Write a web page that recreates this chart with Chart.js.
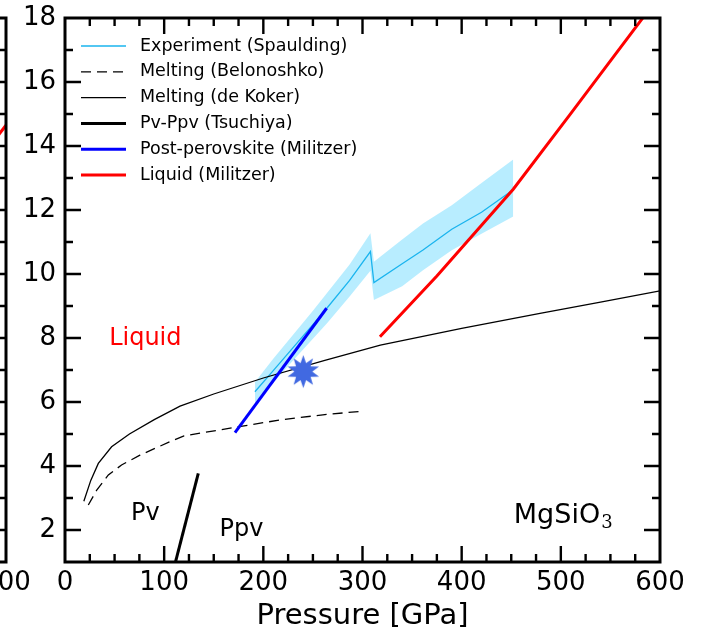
<!DOCTYPE html>
<html lang="en">
<head>
<meta charset="UTF-8">
<title>MgSiO3 phase diagram</title>
<script src="https://cdn.jsdelivr.net/npm/chart.js@4"></script>
<style>
  body { margin: 0; background: #fff; }
  #wrap { position: relative; width: 702px; height: 634px; overflow: hidden; }
  #leftChart { position: absolute; left: -654px; top: 0; }
  #mainChart { position: absolute; left: 0; top: 0; }
</style>
</head>
<body>
<div id="wrap">
  <canvas id="leftChart" width="702" height="634"></canvas>
  <canvas id="mainChart" width="702" height="634"></canvas>
</div>
<script>
// values: pressure in GPa, temperature in 1000 K
const xTicks = [0, 100, 200, 300, 400, 500, 600];
const yTicks = [2, 4, 6, 8, 10, 12, 14, 16, 18];

// Experiment (Spaulding): line plus uncertainty band
const expP  = [191.5, 210, 230, 250, 264, 287, 308, 311.5, 340, 361, 390, 420, 452];
const expT  = [6.32, 6.98, 7.7, 8.42, 8.93, 9.8, 10.7, 9.73, 10.32, 10.75, 11.4, 11.93, 12.63];
const expHi = [6.62, 7.35, 8.1, 8.85, 9.4, 10.3, 11.27, 10.38, 11.08, 11.58, 12.15, 12.84, 13.58];
const expLo = [5.98, 6.6, 7.3, 7.98, 8.45, 9.3, 10.1, 9.19, 9.62, 10.12, 10.74, 11.26, 11.8];

// Melting (Belonoshko), dashed
const belP = [23.5, 32, 43.7, 57, 75.6, 105.8, 120, 170, 217, 260, 299];
const belT = [2.78, 3.25, 3.72, 4.03, 4.34, 4.76, 4.94, 5.2, 5.44, 5.6, 5.71];

// Melting (de Koker)
const dkP = [19, 26, 33.6, 47, 65, 90, 116, 150, 200, 262, 318, 400, 479, 540, 600];
const dkT = [2.9, 3.55, 4.08, 4.6, 5.0, 5.45, 5.87, 6.25, 6.75, 7.3, 7.78, 8.3, 8.77, 9.12, 9.47];

// Pv-Ppv (Tsuchiya)
const tsP = [111, 134.4];
const tsT = [0.95, 3.77];

// Post-perovskite (Militzer)
const ppvP = [171.4, 263.8];
const ppvT = [5.04, 8.93];

// Liquid (Militzer)
const liqP = [317.6, 375, 452, 509, 585];
const liqT = [8.04, 9.94, 12.65, 14.97, 18.1];

// star marker
const starP = [240.3];
const starT = [6.95];

// neighbouring panel (only its right edge is visible)
const leftLiqP = [560, 600];
const leftLiqT = [13.05, 14.65];

const FONT = 'DejaVu Sans';
Chart.defaults.font.family = FONT;

const pts = (xs, ys) => xs.map((v, i) => ({ x: v, y: ys[i] }));

function makeStar(n, outer, inner, color) {
  const c = document.createElement('canvas');
  c.width = c.height = Math.ceil(outer * 2 + 2);
  const g = c.getContext('2d');
  g.translate(c.width / 2, c.height / 2);
  g.beginPath();
  for (let i = 0; i < n * 2; i++) {
    const r = i % 2 ? inner : outer;
    const a = -Math.PI / 2 + i * Math.PI / n;
    g.lineTo(r * Math.cos(a), r * Math.sin(a));
  }
  g.closePath();
  g.fillStyle = color;
  g.fill();
  return c;
}

// spines + inward ticks on all four sides
const frame = {
  id: 'frame',
  afterDraw(chart) {
    const { ctx, chartArea: a, scales: { x, y } } = chart;
    const minors = (min, max, step, majors) => {
      const out = [];
      for (let v = min; v <= max; v += step) if (!majors.includes(v)) out.push(v);
      return out;
    };
    ctx.save();
    ctx.strokeStyle = '#000';
    ctx.lineWidth = 2.4;
    const tx = (vals, len) => vals.forEach(v => {
      const p = x.getPixelForValue(v);
      if (p <= a.left + 1 || p >= a.right - 1) return;
      ctx.beginPath();
      ctx.moveTo(p, a.bottom); ctx.lineTo(p, a.bottom - len);
      ctx.moveTo(p, a.top); ctx.lineTo(p, a.top + len);
      ctx.stroke();
    });
    const ty = (vals, len) => vals.forEach(v => {
      const p = y.getPixelForValue(v);
      if (p <= a.top + 1 || p >= a.bottom - 1) return;
      ctx.beginPath();
      ctx.moveTo(a.left, p); ctx.lineTo(a.left + len, p);
      ctx.moveTo(a.right, p); ctx.lineTo(a.right - len, p);
      ctx.stroke();
    });
    tx(xTicks, 16);
    tx(minors(0, 600, 25, xTicks), 8);
    ty(yTicks, 16);
    ty(minors(1, 18, 1, yTicks), 8);
    ctx.lineWidth = 3;
    ctx.strokeRect(a.left, a.top, a.right - a.left, a.bottom - a.top);
    ctx.restore();
  }
};

// legend inside the plot, upper left, no frame
const inlineLegend = {
  id: 'inlineLegend',
  afterDraw(chart) {
    const { ctx, chartArea: a } = chart;
    const items = chart.data.datasets.filter(d => d.inLegend);
    ctx.save();
    ctx.font = '17.5px "' + FONT + '"';
    ctx.textBaseline = 'middle';
    items.forEach((d, i) => {
      const yy = a.top + 28 + i * 25.8;
      ctx.beginPath();
      ctx.strokeStyle = d.borderColor;
      ctx.lineWidth = d.borderWidth;
      ctx.setLineDash(d.borderDash || []);
      ctx.moveTo(a.left + 16, yy);
      ctx.lineTo(a.left + 61, yy);
      ctx.stroke();
      ctx.setLineDash([]);
      ctx.fillStyle = '#000';
      ctx.fillText(d.label, a.left + 75, yy);
    });
    ctx.restore();
  }
};

const notes = [
  { text: 'Liquid', x: 81, y: 7.98, color: 'red' },
  { text: 'Pv', x: 81, y: 2.52, color: '#000' },
  { text: 'Ppv', x: 178, y: 2.0, color: '#000' }
];

const annotate = {
  id: 'annotate',
  afterDraw(chart) {
    const { ctx, scales: { x, y } } = chart;
    ctx.save();
    ctx.textAlign = 'center';
    ctx.textBaseline = 'middle';
    ctx.font = '24px "' + FONT + '"';
    notes.forEach(n => {
      ctx.fillStyle = n.color;
      ctx.fillText(n.text, x.getPixelForValue(n.x), y.getPixelForValue(n.y));
    });
    // MgSiO3 with a subscript 3
    ctx.textAlign = 'left';
    ctx.textBaseline = 'alphabetic';
    ctx.fillStyle = '#000';
    ctx.font = '27px "' + FONT + '"';
    const mx = x.getPixelForValue(452.6), my = y.getPixelForValue(2.22);
    ctx.fillText('MgSiO', mx, my);
    const w = ctx.measureText('MgSiO').width;
    ctx.font = '18px "DejaVu Serif"';
    ctx.fillText('3', mx + w + 1, my + 5);
    ctx.restore();
  }
};

function scaleOpts(showTitle) {
  return {
    x: {
      type: 'linear', min: 0, max: 600,
      afterBuildTicks: s => { s.ticks = xTicks.map(v => ({ value: v })); },
      afterFit: s => { s.height = 72; s.paddingLeft = 0; s.paddingRight = 0; },
      grid: { display: false, drawTicks: false },
      border: { display: false },
      ticks: { color: '#000', font: { size: 26 }, padding: 6, maxRotation: 0, autoSkip: false },
      title: { display: showTitle, text: 'Pressure [GPa]', color: '#000', font: { size: 29 }, padding: { top: 0, bottom: 0 } }
    },
    y: {
      type: 'linear', min: 1, max: 18,
      afterBuildTicks: s => { s.ticks = yTicks.map(v => ({ value: v })); },
      afterFit: s => { s.width = 65; s.paddingTop = 0; s.paddingBottom = 0; },
      grid: { display: false, drawTicks: false },
      border: { display: false },
      ticks: { color: '#000', font: { size: 26 }, padding: 9, autoSkip: false }
    }
  };
}

const baseOpts = {
  responsive: false,
  animation: false,
  events: [],
  layout: { padding: { left: 0, right: 42, top: 18, bottom: 0 } },
  plugins: { legend: { display: false }, tooltip: { enabled: false } }
};

const line = (label, xs, ys, color, width, extra) => Object.assign({
  label, data: pts(xs, ys), showLine: true, fill: false,
  borderColor: color, borderWidth: width, pointRadius: 0, inLegend: true
}, extra || {});

new Chart(document.getElementById('leftChart'), {
  type: 'scatter',
  data: { datasets: [line('Liquid', leftLiqP, leftLiqT, '#ff0000', 3, { inLegend: false })] },
  options: Object.assign({}, baseOpts, { scales: scaleOpts(false) }),
  plugins: [frame]
});

new Chart(document.getElementById('mainChart'), {
  type: 'scatter',
  data: {
    datasets: [
      line('Experiment (Spaulding)', expP, expT, '#1ab4ee', 1.3, { order: 5 }),
      line('Melting (Belonoshko)', belP, belT, '#000', 1.3, { borderDash: [10, 6], order: 4 }),
      line('Melting (de Koker)', dkP, dkT, '#000', 1.3, { order: 4 }),
      line('Pv-Ppv (Tsuchiya)', tsP, tsT, '#000', 3, { order: 3 }),
      line('Post-perovskite (Militzer)', ppvP, ppvT, '#0000ff', 3, { order: 2 }),
      line('Liquid (Militzer)', liqP, liqT, '#ff0000', 3, { order: 2 }),
      {
        label: 'star', data: pts(starP, starT), showLine: false, order: 0,
        pointStyle: makeStar(10, 16.5, 9, '#4169e1'), pointRadius: 17
      },
      {
        label: 'band high', data: pts(expP, expHi), showLine: true, borderWidth: 0,
        pointRadius: 0, backgroundColor: 'rgba(0,191,255,0.28)', fill: '+1', order: 10
      },
      {
        label: 'band low', data: pts(expP, expLo), showLine: true, borderWidth: 0,
        pointRadius: 0, fill: false, order: 10
      }
    ]
  },
  options: Object.assign({}, baseOpts, { scales: scaleOpts(true) }),
  plugins: [frame, inlineLegend, annotate]
});
</script>
</body>
</html>
